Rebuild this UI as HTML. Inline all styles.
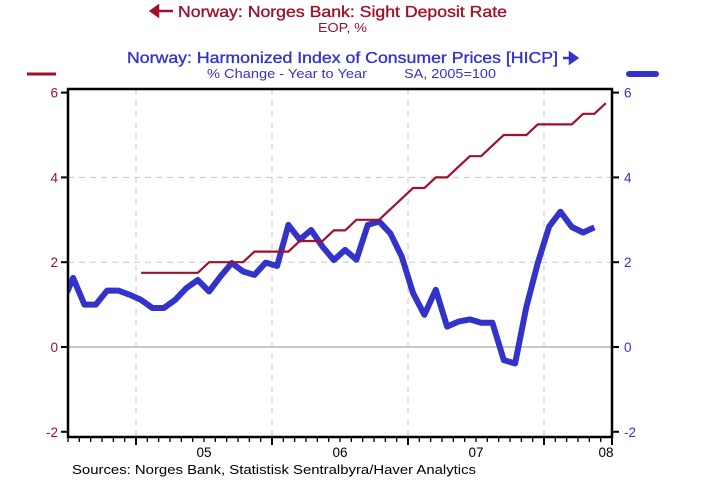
<!DOCTYPE html>
<html><head><meta charset="utf-8">
<style>
html,body{margin:0;padding:0;background:#fff;}
svg{display:block;font-family:"Liberation Sans",Arial,sans-serif;}
</style></head>
<body>
<svg id="chart" width="716" height="486" viewBox="0 0 716 486">
  <g>
    <path d="M151 11 L158 6 L158 16 Z M157 11 L173 11" stroke="#a0102a" stroke-width="2.5" fill="#a0102a"/>
    <text x="178" y="17" font-size="16" textLength="329" lengthAdjust="spacingAndGlyphs" fill="#a0102a" stroke="#a0102a" stroke-width="0.35">Norway: Norges Bank: Sight Deposit Rate</text>
    <text x="318" y="32" font-size="12.5" textLength="49" lengthAdjust="spacingAndGlyphs" fill="#a0102a">EOP, %</text>
    <text x="127" y="63" font-size="16" textLength="431" lengthAdjust="spacingAndGlyphs" fill="#3333cc" stroke="#3333cc" stroke-width="0.35">Norway: Harmonized Index of Consumer Prices [HICP]</text>
    <path d="M563 58 L578 58 M577 58 L570 53 L570 63 Z" stroke="#3333cc" stroke-width="2.5" fill="#3333cc"/>
    <text x="207" y="78" font-size="12.5" textLength="160" lengthAdjust="spacingAndGlyphs" fill="#3333cc">% Change - Year to Year</text>
    <text x="404" y="78" font-size="12.5" textLength="92" lengthAdjust="spacingAndGlyphs" fill="#3333cc">SA, 2005=100</text>
    <line x1="27" y1="74" x2="56" y2="74" stroke="#a0102a" stroke-width="3"/>
    <line x1="629" y1="74" x2="656" y2="74" stroke="#3333cc" stroke-width="6" stroke-linecap="round"/>
  </g>
  <g id="grid"></g>
  <g id="axes"></g>
  <g id="series"></g>
  <text x="72" y="474" font-size="13" textLength="404" lengthAdjust="spacingAndGlyphs" fill="#000">Sources:  Norges Bank, Statistisk Sentralbyra/Haver Analytics</text>
</svg>
<script>
// Month index k: 0 = Jul 2004
const yTicks = [-2, 0, 2, 4, 6];
const yearLabels = ["05", "06", "07", "08"];
const yearStartK = [6, 18, 30, 42];
const rateStartK = 6;
const rateValues = [1.75,1.75,1.75,1.75,1.75,1.75, 2.0,2.0,2.0,2.0, 2.25,2.25,2.25,2.25, 2.5,2.5,2.5, 2.75,2.75, 3.0,3.0,3.0, 3.25, 3.5, 3.75,3.75, 4.0,4.0, 4.25, 4.5,4.5, 4.75, 5.0,5.0,5.0, 5.25,5.25,5.25,5.25, 5.5,5.5, 5.75];
const hicpStartK = -1;
const hicpValues = [1.0, 1.63, 1.0, 1.0, 1.33, 1.33, 1.23, 1.11, 0.92, 0.92, 1.11, 1.39, 1.58, 1.31, 1.66, 1.98, 1.78, 1.7, 1.99, 1.91, 2.88, 2.53, 2.76, 2.37, 2.05, 2.29, 2.06, 2.88, 2.96, 2.68, 2.13, 1.27, 0.76, 1.35, 0.48, 0.6, 0.65, 0.57, 0.57, -0.31, -0.39, 0.95, 1.98, 2.84, 3.19, 2.83, 2.7, 2.82];

const L = 68, R = 612, T = 89, B = 437;
const MW = (R - L) / 48;
const xEdge = k => L + MW * k;
const xPt = k => L + MW * (k + 0.45);
const y = v => 347 - v * 42.4;
const NS = "http://www.w3.org/2000/svg";
function mk(tag, attrs, parent) {
  const e = document.createElementNS(NS, tag);
  for (const a in attrs) e.setAttribute(a, attrs[a]);
  parent.appendChild(e);
  return e;
}
const grid = document.getElementById("grid");
const axes = document.getElementById("axes");
const series = document.getElementById("series");

yTicks.forEach(v => {
  if (v === -2 || v === 6) return;
  const ln = mk("line", {x1: L, x2: R, y1: y(v), y2: y(v), stroke: "#c8c8c8", "stroke-width": v === 0 ? 2 : 1, "stroke-dasharray": v === 0 ? "" : "6,5"}, grid);
  
  
});
yearStartK.forEach(k => {
  const ln = mk("line", {x1: xEdge(k), x2: xEdge(k), y1: T, y2: B, stroke: "#c8c8c8", "stroke-width": 1, "stroke-dasharray": "6,5"}, grid);
  
  
});
const fr = mk("rect", {x: L, y: T, width: R - L, height: B - T, fill: "none", stroke: "#000", "stroke-width": 2.5}, axes);


yTicks.forEach(v => {
  const t1 = mk("line", {x1: L - 7, x2: L, y1: y(v), y2: y(v), stroke: "#000", "stroke-width": 2}, axes);
  
  
  const t2 = mk("line", {x1: R, x2: R + 7, y1: y(v), y2: y(v), stroke: "#000", "stroke-width": 2}, axes);
  
  
  const lt = mk("text", {x: L - 10, y: y(v) + 5, "text-anchor": "end", "font-size": 13.5, fill: "#a0102a"}, axes);
  lt.textContent = String(v);
  
  
  const rt = mk("text", {x: R + 12, y: y(v) + 5, "font-size": 13.5, fill: "#3333cc"}, axes);
  rt.textContent = String(v);
  
  
});
for (let k = 0; k <= 48; k++) {
  const major = yearStartK.includes(k) || k === 48;
  const t = mk("line", {x1: xEdge(k), x2: xEdge(k), y1: B, y2: B + (major ? 8 : 5), stroke: "#000", "stroke-width": major ? 2 : 1.3}, axes);
  
  
}
yearLabels.forEach((lab, i) => {
  const k = yearStartK[i];
  const cx = i === 3 ? R - 6 : xEdge(k + 6);
  const tx = mk("text", {x: cx, y: B + 20, "text-anchor": "middle", "font-size": 13.5, fill: "#000"}, axes);
  tx.textContent = lab;
  
  
});
const defs = mk("defs", {}, series);
const cp = mk("clipPath", {id: "plotclip"}, defs);
mk("rect", {x: L + 1, y: T, width: R - L - 2, height: B - T}, cp);

const hicpPts = hicpValues.map((v, i) => xPt(hicpStartK + i).toFixed(1) + "," + y(v).toFixed(1)).join(" ");
const hl = mk("polyline", {points: hicpPts, fill: "none", stroke: "#3333cc", "stroke-width": 6, "stroke-linejoin": "round", "clip-path": "url(#plotclip)"}, series);



const ratePts = rateValues.map((v, i) => xPt(rateStartK + i).toFixed(1) + "," + y(v).toFixed(1)).join(" ");
const rl = mk("polyline", {points: ratePts, fill: "none", stroke: "#a0102a", "stroke-width": 2.2, "clip-path": "url(#plotclip)"}, series);


</script>
</body></html>
